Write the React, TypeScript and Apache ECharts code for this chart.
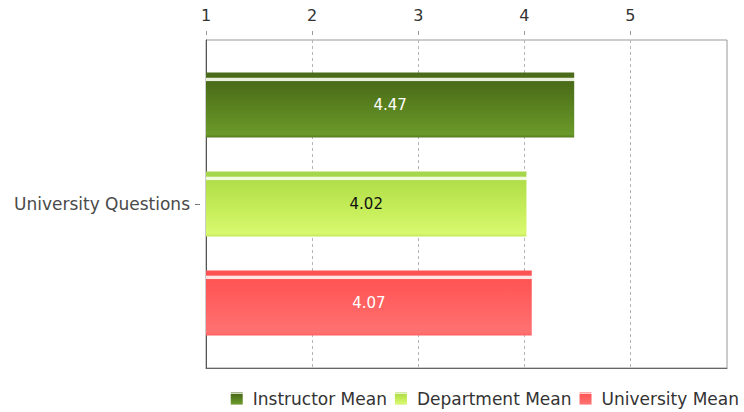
import React, { useEffect, useRef } from "react";
import * as echarts from "echarts";

const categories: string[] = ["University Questions"];
const seriesNames: string[] = ["Instructor Mean", "Department Mean", "University Mean"];
const instructorMean: number[] = [4.47];
const departmentMean: number[] = [4.02];
const universityMean: number[] = [4.07];
const xTicks: number[] = [1, 2, 3, 4, 5];

const FONT = "DejaVu Sans";

function glossy(stripe: string, hi: string, top: string, mid: string, bottom: string, edge: string) {
  return new echarts.graphic.LinearGradient(0, 0, 0, 1, [
    { offset: 0, color: stripe },
    { offset: 0.075, color: stripe },
    { offset: 0.085, color: hi },
    { offset: 0.125, color: hi },
    { offset: 0.14, color: top },
    { offset: 0.55, color: mid },
    { offset: 0.95, color: bottom },
    { offset: 1, color: edge },
  ]);
}

export default function App() {
  const ref = useRef<HTMLDivElement>(null);
  useEffect(() => {
    if (!ref.current) return;
    const chart = echarts.init(ref.current, undefined, { renderer: "svg" });
    const labelBase = { show: true, position: "inside" as const, fontFamily: FONT, fontSize: 15 };
    chart.setOption({
      animation: false,
      backgroundColor: "#ffffff",
      grid: {
        left: 206,
        right: 17,
        top: 40,
        bottom: 44,
        show: true,
        borderColor: "#999999",
        borderWidth: 1,
      },
      legend: {
        data: seriesNames,
        right: 0,
        bottom: 0,
        icon: "rect",
        itemWidth: 12,
        itemHeight: 12,
        itemGap: 8,
        textStyle: { fontFamily: FONT, fontSize: 17, color: "#333", padding: [0, 0, 0, 5] },
      },
      xAxis: [
        {
          type: "value",
          position: "top",
          min: 1,
          max: 5.91,
          interval: 1,
          offset: 5,
          axisLine: { show: false },
          axisTick: { show: true, length: 5, lineStyle: { color: "#999", type: "dashed" }, customValues: xTicks },
          axisLabel: { fontFamily: FONT, fontSize: 16, color: "#333", margin: 12, customValues: xTicks },
          splitLine: { show: true, lineStyle: { color: "#b5b5b5", type: [3, 3] } },
        },
        {
          type: "value",
          position: "bottom",
          min: 1,
          max: 5.91,
          interval: 1,
          axisLine: { show: true, onZero: false, lineStyle: { color: "#666" } },
          axisTick: { show: false },
          axisLabel: { show: false },
          splitLine: { show: false },
        },
      ],
      yAxis: [
        {
          type: "category",
          data: categories,
          inverse: true,
          offset: 6,
          axisLine: { show: false },
          axisTick: { show: true, alignWithLabel: true, length: 5, lineStyle: { color: "#777" } },
          axisLabel: { fontFamily: FONT, fontSize: 17, color: "#4a4a4a", margin: 10 },
        },
        {
          type: "category",
          data: categories,
          inverse: true,
          position: "left",
          axisLine: { show: true, onZero: false, lineStyle: { color: "#555" } },
          axisTick: { show: false },
          axisLabel: { show: false },
          splitLine: { show: false },
        },
      ],
      series: [
        {
          name: seriesNames[0],
          type: "bar",
          data: instructorMean,
          barCategoryGap: "19.8%",
          barGap: "52%",
          itemStyle: {
            color: glossy("#4a6b1a", "#e9efdc", "#4a6a18", "#5a8320", "#6a9a2a", "#557a1e"),
          },
          label: { ...labelBase, color: "#ffffff", formatter: (p: any) => p.value.toFixed(2) },
        },
        {
          name: seriesNames[1],
          type: "bar",
          data: departmentMean,
          barCategoryGap: "19.8%",
          barGap: "52%",
          itemStyle: {
            color: glossy("#a6d64c", "#f2fbe0", "#b0de4a", "#c4ec58", "#d8f96e", "#c4e85a"),
          },
          label: { ...labelBase, color: "#111111", formatter: (p: any) => p.value.toFixed(2) },
        },
        {
          name: seriesNames[2],
          type: "bar",
          data: universityMean,
          barCategoryGap: "19.8%",
          barGap: "52%",
          itemStyle: {
            color: glossy("#ff5252", "#ffe6e6", "#ff5454", "#ff6262", "#ff7272", "#ff6060"),
          },
          label: { ...labelBase, color: "#ffffff", formatter: (p: any) => p.value.toFixed(2) },
        },
      ],
      color: ["#4b6c1d", "#a8d950", "#ff5555"],
    });
    return () => chart.dispose();
  }, []);
  return (
    <div
      ref={ref}
      style={{ position: "fixed", left: 0, top: 0, width: 744, height: 412 }}
    />
  );
}
